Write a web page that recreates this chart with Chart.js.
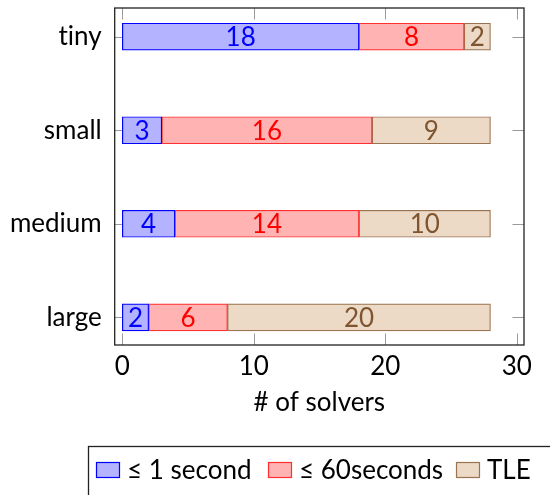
<!DOCTYPE html>
<html>
<head>
<meta charset="utf-8">
<script src="https://cdn.jsdelivr.net/npm/chart.js@4.4.1/dist/chart.umd.min.js"></script>
<style>
  html, body { margin: 0; padding: 0; background: #fff; }
  #wrap { width: 550px; height: 495px; }
</style>
</head>
<body>
<div id="wrap"><canvas id="c" width="550" height="495"></canvas></div>
<script>
// Instance sizes, one bar per size class
const categories = ['tiny', 'small', 'medium', 'large'];
// Number of solvers finishing in each time bucket
const underOneSecond = [18, 3, 4, 2];
const underSixtySeconds = [8, 16, 14, 6];
const timeLimitExceeded = [2, 9, 10, 20];
const seriesNames = ['\u2264 1 second', '\u2264 60seconds', 'TLE'];
const xTickValues = [0, 10, 20, 30];
const categoryTicks = [0, 1, 2, 3];

const FONT = 'Lato, "Open Sans", sans-serif';
const FS = 26;

const palette = [
  { fill: '#b3b3ff', line: '#0000ff', text: '#0000ff' },
  { fill: '#ffb3b3', line: '#ff3030', text: '#ff0000' },
  { fill: '#ecd9c6', line: '#9a7350', text: '#7f5530' }
];

function toPoints(values) {
  return values.map((v, i) => ({ x: v, y: i }));
}

const seriesValues = [underOneSecond, underSixtySeconds, timeLimitExceeded];

const datasets = seriesValues.map((vals, k) => ({
  label: seriesNames[k],
  data: toPoints(vals),
  backgroundColor: palette[k].fill,
  borderColor: palette[k].line,
  borderWidth: 1.2,
  borderSkipped: false,
  barThickness: 27
}));

// plain glyphs everywhere (no ligatures such as "ti")
const plainText = {
  id: 'plainText',
  beforeDraw(chart) {
    chart.ctx.textRendering = 'optimizeSpeed';
  }
};

// inward tick marks on all four sides plus the black frame
const frameAndTicks = {
  id: 'frameAndTicks',
  beforeDatasetsDraw(chart) {
    const { ctx, chartArea: a, scales: { x, y } } = chart;
    const len = 11.5;
    ctx.save();
    ctx.strokeStyle = '#9a9a9a';
    ctx.lineWidth = 1;
    ctx.beginPath();
    xTickValues.forEach(v => {
      const px = Math.round(x.getPixelForValue(v)) + 0.5;
      ctx.moveTo(px, a.bottom); ctx.lineTo(px, a.bottom - len);
      ctx.moveTo(px, a.top); ctx.lineTo(px, a.top + len);
    });
    categoryTicks.forEach(v => {
      const py = Math.round(y.getPixelForValue(v)) + 0.5;
      ctx.moveTo(a.left, py); ctx.lineTo(a.left + len, py);
      ctx.moveTo(a.right, py); ctx.lineTo(a.right - len, py);
    });
    ctx.stroke();
    ctx.restore();
  },
  afterDraw(chart) {
    const { ctx, chartArea: a } = chart;
    ctx.save();
    ctx.strokeStyle = '#222';
    ctx.lineWidth = 1.3;
    ctx.strokeRect(a.left, a.top, a.right - a.left, a.bottom - a.top);
    ctx.restore();
  }
};

// value written in the middle of every bar segment
const segmentLabels = {
  id: 'segmentLabels',
  afterDatasetsDraw(chart) {
    const { ctx } = chart;
    ctx.save();
    ctx.font = FS + 'px ' + FONT;
    ctx.textAlign = 'center';
    ctx.textBaseline = 'middle';
    chart.data.datasets.forEach((ds, k) => {
      const meta = chart.getDatasetMeta(k);
      ctx.fillStyle = palette[k].text;
      meta.data.forEach((bar, i) => {
        const cx = (bar.x + bar.base) / 2;
        ctx.fillText(String(ds.data[i].x), cx, bar.y + 1);
      });
    });
    ctx.restore();
  }
};

// boxed legend below the plot
const legendSlots = [96, 268, 456];
const boxedLegend = {
  id: 'boxedLegend',
  afterDraw(chart) {
    const { ctx } = chart;
    ctx.save();
    ctx.strokeStyle = '#222';
    ctx.lineWidth = 1.3;
    ctx.strokeRect(88.5, 446.5, 700, 200);
    ctx.font = FS + 'px ' + FONT;
    ctx.textBaseline = 'middle';
    ctx.textAlign = 'left';
    const top = 462, bw = 24, bh = 16;
    chart.data.datasets.forEach((ds, k) => {
      const xPos = legendSlots[k];
      ctx.fillStyle = palette[k].fill;
      ctx.fillRect(xPos, top, bw, bh);
      ctx.strokeStyle = palette[k].line;
      ctx.lineWidth = 1.2;
      ctx.strokeRect(xPos + 0.5, top + 0.5, bw - 1, bh - 1);
      ctx.fillStyle = '#000';
      ctx.fillText(ds.label, xPos + bw + 7, top + bh / 2 + 1);
    });
    ctx.restore();
  }
};

function noEdgePadding(s) {
  s.paddingTop = 0; s.paddingBottom = 0; s.paddingLeft = 0; s.paddingRight = 0;
}

new Chart(document.getElementById('c'), {
  type: 'bar',
  data: { datasets },
  plugins: [plainText, frameAndTicks, segmentLabels, boxedLegend],
  options: {
    responsive: false,
    animation: false,
    indexAxis: 'y',
    layout: { padding: { left: 0, right: 26, top: 8, bottom: 70 } },
    plugins: { legend: { display: false }, tooltip: { enabled: false } },
    scales: {
      x: {
        type: 'linear',
        stacked: true,
        min: -0.58,
        max: 30.55,
        offset: false,
        grid: { display: false, drawTicks: false },
        border: { display: false },
        afterBuildTicks: s => { s.ticks = xTickValues.map(v => ({ value: v })); },
        afterFit: s => { s.height = 80; noEdgePadding(s); },
        ticks: { color: '#000', padding: 6, font: { family: FONT, size: FS } },
        title: {
          display: true,
          text: '# of solvers',
          color: '#000',
          padding: { top: 0, bottom: 7 },
          font: { family: FONT, size: FS }
        }
      },
      y: {
        type: 'linear',
        stacked: true,
        reverse: true,
        offset: false,
        min: -0.307,
        max: 3.296,
        grid: { display: false, drawTicks: false, offset: false },
        border: { display: false },
        afterBuildTicks: s => { s.ticks = categoryTicks.map(v => ({ value: v })); },
        afterFit: s => { s.width = 114.7; noEdgePadding(s); },
        ticks: {
          color: '#000',
          padding: 13,
          font: { family: FONT, size: FS },
          callback: v => categories[v]
        }
      }
    }
  }
});
</script>
</body>
</html>
